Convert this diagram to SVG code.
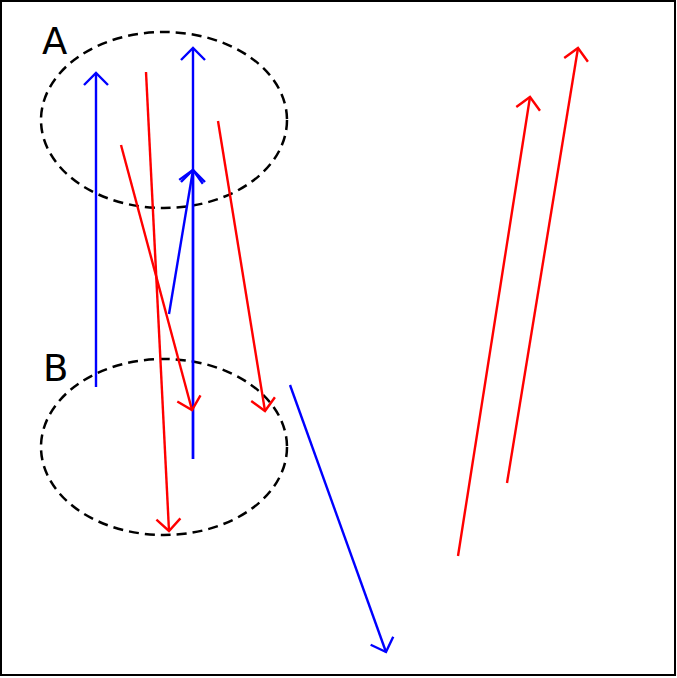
<svg xmlns="http://www.w3.org/2000/svg" width="677" height="678" viewBox="0 0 677 678">
  <style>
    .node ellipse { fill: none; stroke: #000; stroke-width: 2.5; stroke-dasharray: 10 6; }
    .label { font-family: "DejaVu Sans", sans-serif; font-size: 37px; fill: #000; }
    .red { stroke: #ff0000; stroke-width: 2.4; fill: none; marker-end: url(#headRed); }
    .blue { stroke: #0000ff; stroke-width: 2.4; fill: none; marker-end: url(#headBlue); }
  </style>
  <defs>
    <marker id="headRed" markerUnits="userSpaceOnUse" orient="auto" refX="0" refY="0" markerWidth="30" markerHeight="30" viewBox="-15 -15 30 30" overflow="visible">
      <path d="M-12,-12 L0,0 L-12,12" fill="none" stroke="#ff0000" stroke-width="2.4"/>
    </marker>
    <marker id="headBlue" markerUnits="userSpaceOnUse" orient="auto" refX="0" refY="0" markerWidth="30" markerHeight="30" viewBox="-15 -15 30 30" overflow="visible">
      <path d="M-12,-12 L0,0 L-12,12" fill="none" stroke="#0000ff" stroke-width="2.4"/>
    </marker>
  </defs>
  <rect x="0" y="0" width="677" height="678" fill="#fff"/>
  <rect x="1" y="1" width="674" height="674" fill="none" stroke="#000" stroke-width="2"/>
  <g id="nodeA" class="node">
    <ellipse cx="164" cy="120" rx="123" ry="88"/>
    <text class="label" x="42" y="54">A</text>
  </g>
  <g id="nodeB" class="node">
    <ellipse cx="164" cy="447" rx="123" ry="88"/>
    <text class="label" x="43" y="381">B</text>
  </g>
  <g id="connectors">
    <line class="blue" x1="96" y1="387" x2="96" y2="73"/>
    <line class="blue" x1="193" y1="459" x2="193" y2="48"/>
    <line class="blue" x1="193" y1="459" x2="193" y2="170"/>
    <line class="blue" x1="169" y1="314" x2="193" y2="170"/>
    <line class="blue" x1="290" y1="385" x2="386" y2="652"/>
    <line class="red" x1="146" y1="72" x2="169" y2="531"/>
    <line class="red" x1="121" y1="145" x2="192" y2="410"/>
    <line class="red" x1="218" y1="121" x2="265" y2="411"/>
    <line class="red" x1="458" y1="556" x2="530" y2="97"/>
    <line class="red" x1="507" y1="483" x2="578" y2="48"/>
  </g>
</svg>
